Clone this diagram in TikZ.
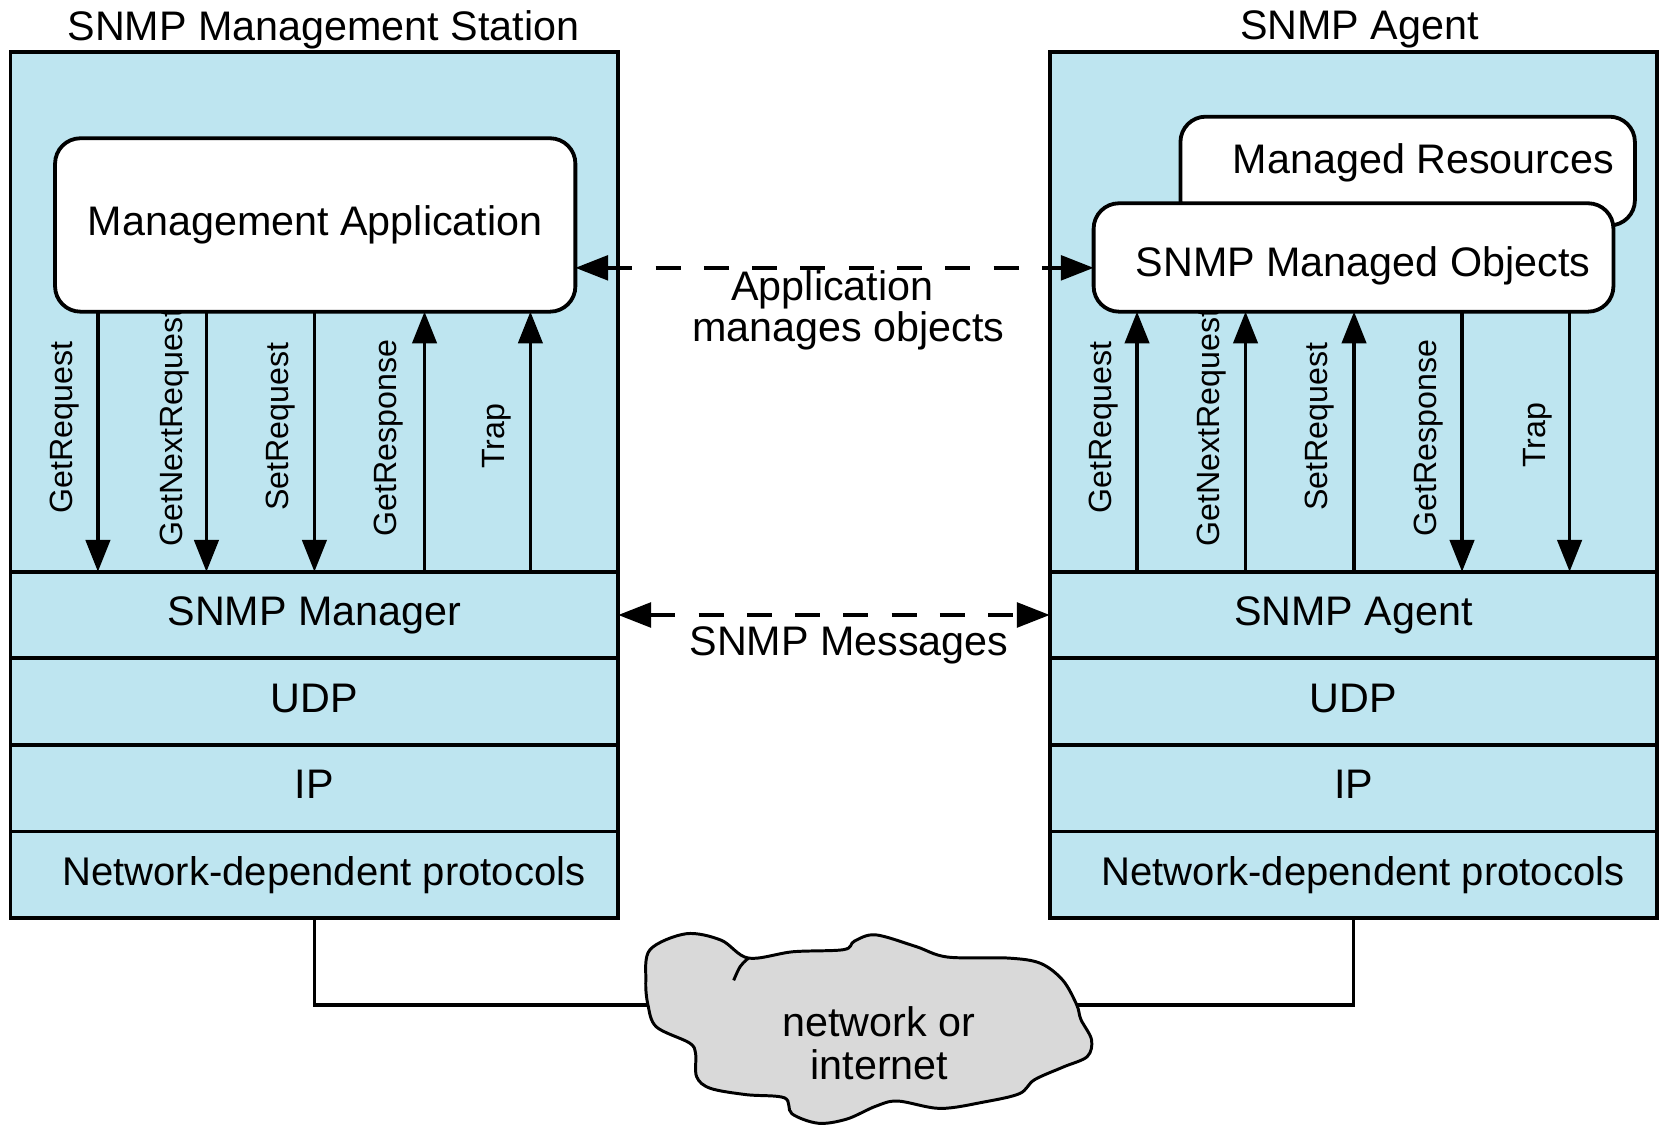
\documentclass[tikz,border=0pt]{standalone}
\usepackage{fontspec}
\setmainfont{Liberation Sans}
\usetikzlibrary{arrows.meta}
\definecolor{stackblue}{RGB}{190,229,240}
\definecolor{cloudgray}{RGB}{217,217,217}

\begin{document}
\begin{tikzpicture}[x=0.5pt,y=-0.5pt,
  every node/.style={inner sep=0pt, outer sep=0pt},
  big/.style={font=\fontsize{19.5pt}{20.5pt}\selectfont},
  txt/.style={big, anchor=base},
  region/.style={draw, line width=1.8pt, fill=stackblue, minimum width=287pt},
  layer/.style={region, big, minimum height=40.9pt, anchor=north, text height=14pt, text depth=4pt},
  appbox/.style={draw, line width=1.8pt, fill=white, rounded corners=12pt},
  sig/.style={line width=1.6pt, -{Triangle[length=15pt,width=11.5pt]}},
  lbl/.style={rotate=90, font=\fontsize{15.2pt}{16pt}\selectfont},
  msg/.style={line width=1.6pt, dash pattern=on 11.8pt off 11pt,
    {Triangle[length=15.5pt,width=11.7pt]}-{Triangle[length=15.5pt,width=11.7pt]}},
  wire/.style={line width=1.8pt},
]
\useasboundingbox (0,0) rectangle (1568,1065);

% titles
\node[txt] (ltitle) at (305.5,38) {SNMP Management Station};
\node[txt] (rtitle) at (1284,37.5) {SNMP Agent};

% management station stack
\node[region, minimum height=245.5pt, anchor=north] (lstation) at (297,49) {};
\node[layer] (lmgr) at (lstation.south) {SNMP Manager};
\node[layer] (ludp) at (lmgr.south) {UDP};
\node[layer] (lip)  at (ludp.south) {IP};
\node[layer] (lnet) at (lip.south) {\hspace*{9pt}\fontsize{18.9pt}{20pt}\selectfont Network-dependent protocols};

% agent stack
\node[region, minimum height=245.5pt, anchor=north] (rstation) at (1278.5,49) {};
\node[layer] (ragt) at (rstation.south) {SNMP Agent};
\node[layer] (rudp) at (ragt.south) {UDP};
\node[layer] (rip)  at (rudp.south) {IP};
\node[layer] (rnet) at (rip.south) {\hspace*{9pt}\fontsize{18.9pt}{20pt}\selectfont Network-dependent protocols};

% PDU labels (left)
\node[lbl] (lgr)  at (60.7,403.8)  {GetRequest};
\node[lbl] (lgnr) at (164.8,404)   {GetNextRequest};
\node[lbl] (lsr)  at (265,403)     {SetRequest};
\node[lbl] (lgrs) at (367.2,414)   {GetResponse};
\node[lbl] (ltr)  at (469.4,412)   {Trap};
% PDU labels (right)
\node[lbl] (rgr)  at (1042,404)    {GetRequest};
\node[lbl] (rgnr) at (1144.7,404)  {GetNextRequest};
\node[lbl] (rsr)  at (1246.5,403)  {SetRequest};
\node[lbl] (rgrs) at (1349,414)    {GetResponse};
\node[lbl] (rtr)  at (1452.6,411)  {Trap};

% application and object boxes
\node[appbox, big, minimum width=245.75pt, minimum height=81.9pt,
      text height=14pt, text depth=4pt] (mapp) at (297.75,212.5) {Management Application};
\node[appbox, minimum width=214.65pt, minimum height=51.4pt] (mres) at (1329.65,161.6) {};
\node[txt] (mresT) at (1344.5,163.7) {Managed Resources};
\node[appbox, minimum width=245.5pt, minimum height=51.2pt] (mobj) at (1278.5,243.2) {};
\node[txt] (mobjT) at (1287.5,261.3) {SNMP Managed Objects};

% PDU arrows
\foreach \x [count=\i] in {92.5,195,297,401,501} \coordinate (lc\i) at (\x,0);
\foreach \x [count=\i] in {1074,1176.5,1279,1381,1482.6} \coordinate (rc\i) at (\x,0);
\foreach \i in {1,2,3} {
  \draw[sig] (mapp.south -| lc\i) -- (lmgr.north -| lc\i);
  \draw[sig] (ragt.north -| rc\i) -- (mobj.south -| rc\i);
}
\foreach \i in {4,5} {
  \draw[sig] (lmgr.north -| lc\i) -- (mapp.south -| lc\i);
  \draw[sig] (mobj.south -| rc\i) -- (ragt.north -| rc\i);
}

% peer relations
\coordinate (appline) at (0,253);
\draw[msg] (mapp.east |- appline) -- (mobj.west |- appline);
\node[txt] (appT1) at (786.3,283.4) {Application};
\node[txt] (appT2) at (801.3,322.7) {manages objects};
\draw[msg] (lmgr.east) -- (ragt.west);
\node[txt] (msgT) at (802,618.7) {SNMP Messages};

% network cloud
\coordinate (cloudL) at (611,949);
\coordinate (cloudR) at (1017,949);
\draw[wire] (lnet.south) |- (cloudL);
\draw[wire] (rnet.south) |- (cloudR);
\draw[line width=1.4pt, fill=cloudgray] plot[smooth cycle, tension=0.55] coordinates {
  (707,905) (681,888) (648,882) (614,897) (610,926) (612,949) (620,970)
  (651,985) (657,995) (658,1017) (671,1028) (705,1034) (741,1037) (748,1052)
  (773,1061) (800,1057) (827,1045) (848,1040) (888,1047) (929,1041) (963,1033)
  (977,1020) (1004,1008) (1027,998) (1031,982) (1021,963) (1017,949) (1004,926)
  (983,910) (953,905) (895,904) (865,894) (827,883) (807,889) (797,897) (749,899)};
\draw[line width=1.4pt] (707,905) .. controls (699,912) .. (693,926);
\node[txt] (netT1) at (829.8,979.2) {network or};
\node[txt] (netT2) at (830.7,1020) {internet};
\end{tikzpicture}
\end{document}
